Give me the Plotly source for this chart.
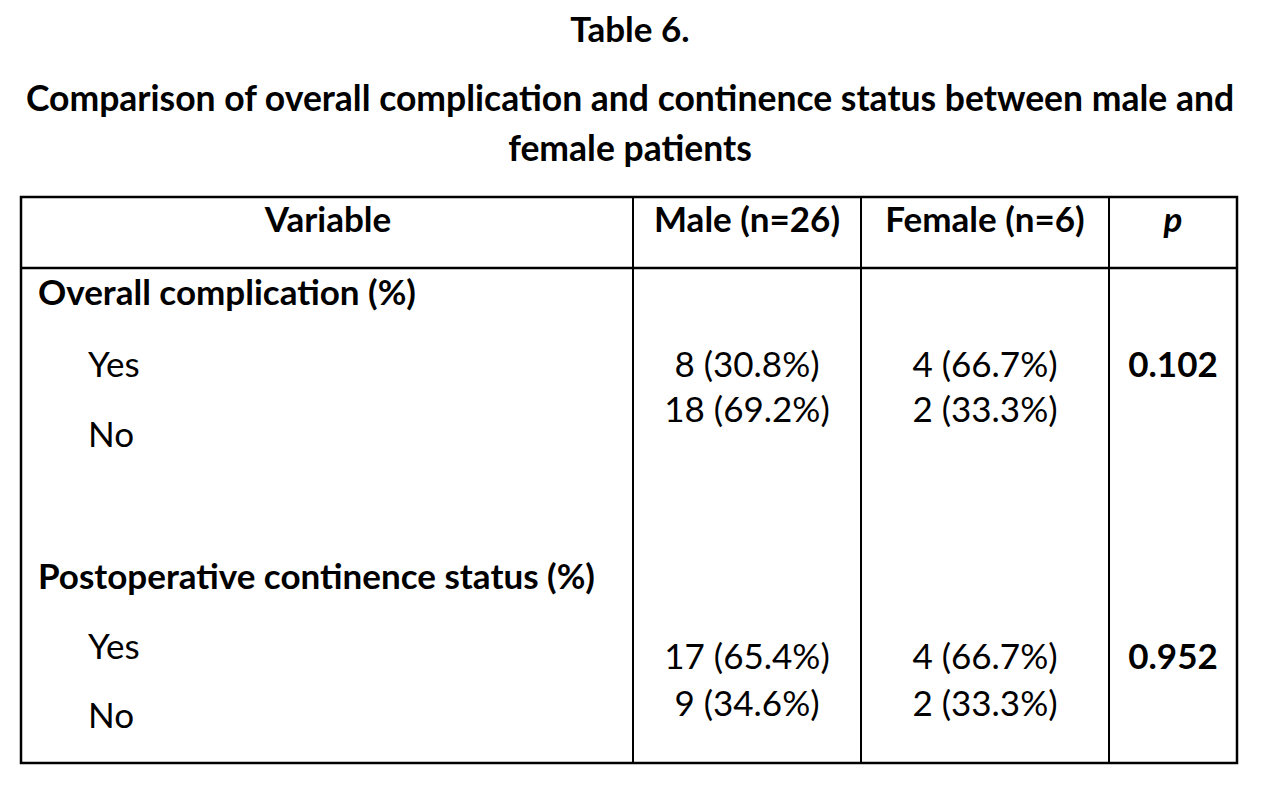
import plotly.graph_objects as go

# ---- table content -------------------------------------------------------
table_title = "Table 6."
subtitle_lines = [
    "Comparison of overall complication and continence status between male and",
    "female patients",
]
headers = ["Variable", "Male (n=26)", "Female (n=6)", "p"]
groups = ["Overall complication (%)", "Postoperative continence status (%)"]
levels = ["Yes", "No"]

# counts and percentages, per group: [Yes, No]
male_n = [[8, 18], [17, 9]]
male_pct = [[30.8, 69.2], [65.4, 34.6]]
female_n = [[4, 2], [4, 2]]
female_pct = [[66.7, 33.3], [66.7, 33.3]]
p_values = [0.102, 0.952]

# ---- layout (page pixel coordinates) -------------------------------------
col_edges = [21, 633, 861, 1109, 1237]
col_centers = [328, 747, 985, 1173]
table_top, header_bottom, table_bottom = 197, 268, 763
header_y = 223
group_y = [296, 580]
level_y = [[368, 438], [650, 719]]
value_y = [[368, 413], [660, 707]]
group_x, level_x = 38, 88

FONT = "Lato"
SIZE = 35
INK = "#000000"


def cell(n, pct):
    return f"{n} ({pct:.1f}%)"


fig = go.Figure()


def add_text(xs, ys, texts, pos="middle center", size=SIZE):
    fig.add_trace(
        go.Scatter(
            x=xs,
            y=ys,
            text=texts,
            mode="text",
            textposition=pos,
            textfont=dict(family=FONT, size=size, color=INK),
            hoverinfo="skip",
            showlegend=False,
        )
    )


# title block
add_text([630], [33], [f"<b>{table_title}</b>"])
add_text([630, 630], [102, 152], [f"<b>{s}</b>" for s in subtitle_lines], size=35.5)

# header row
hdr = [f"<b>{h}</b>" for h in headers[:-1]] + [f"<b><i>{headers[-1]}</i></b>"]
add_text(col_centers, [header_y] * 4, hdr)

# group labels and levels
add_text([group_x] * 2, group_y, [f"<b>{g}</b>" for g in groups], pos="middle right")
lx, ly, lt = [], [], []
for gi in range(len(groups)):
    for li, lev in enumerate(levels):
        lx.append(level_x)
        ly.append(level_y[gi][li])
        lt.append(lev)
add_text(lx, ly, lt, pos="middle right")

# values
vx, vy, vt = [], [], []
for gi in range(len(groups)):
    for li in range(len(levels)):
        vx += [col_centers[1], col_centers[2]]
        vy += [value_y[gi][li]] * 2
        vt += [cell(male_n[gi][li], male_pct[gi][li]), cell(female_n[gi][li], female_pct[gi][li])]
add_text(vx, vy, vt)
add_text([col_centers[3]] * 2, [value_y[gi][0] for gi in range(len(groups))],
         [f"<b>{p:.3f}</b>" for p in p_values])

# table rules
fig.add_shape(type="rect", x0=col_edges[0], x1=col_edges[-1], y0=table_top, y1=table_bottom,
              xref="x", yref="y", line=dict(color=INK, width=2.5))
fig.add_shape(type="line", x0=col_edges[0], x1=col_edges[-1], y0=header_bottom, y1=header_bottom,
              xref="x", yref="y", line=dict(color=INK, width=2.5))
for xe in col_edges[1:-1]:
    fig.add_shape(type="line", x0=xe, x1=xe, y0=table_top, y1=table_bottom,
                  xref="x", yref="y", line=dict(color=INK, width=2))

fig.update_xaxes(range=[8, 1256], visible=False, fixedrange=True)
fig.update_yaxes(range=[780, 8], visible=False, fixedrange=True)
fig.update_layout(
    width=1248,
    height=772,
    margin=dict(l=0, r=0, t=0, b=0),
    paper_bgcolor="white",
    plot_bgcolor="white",
)

fig.write_html("out.html")
